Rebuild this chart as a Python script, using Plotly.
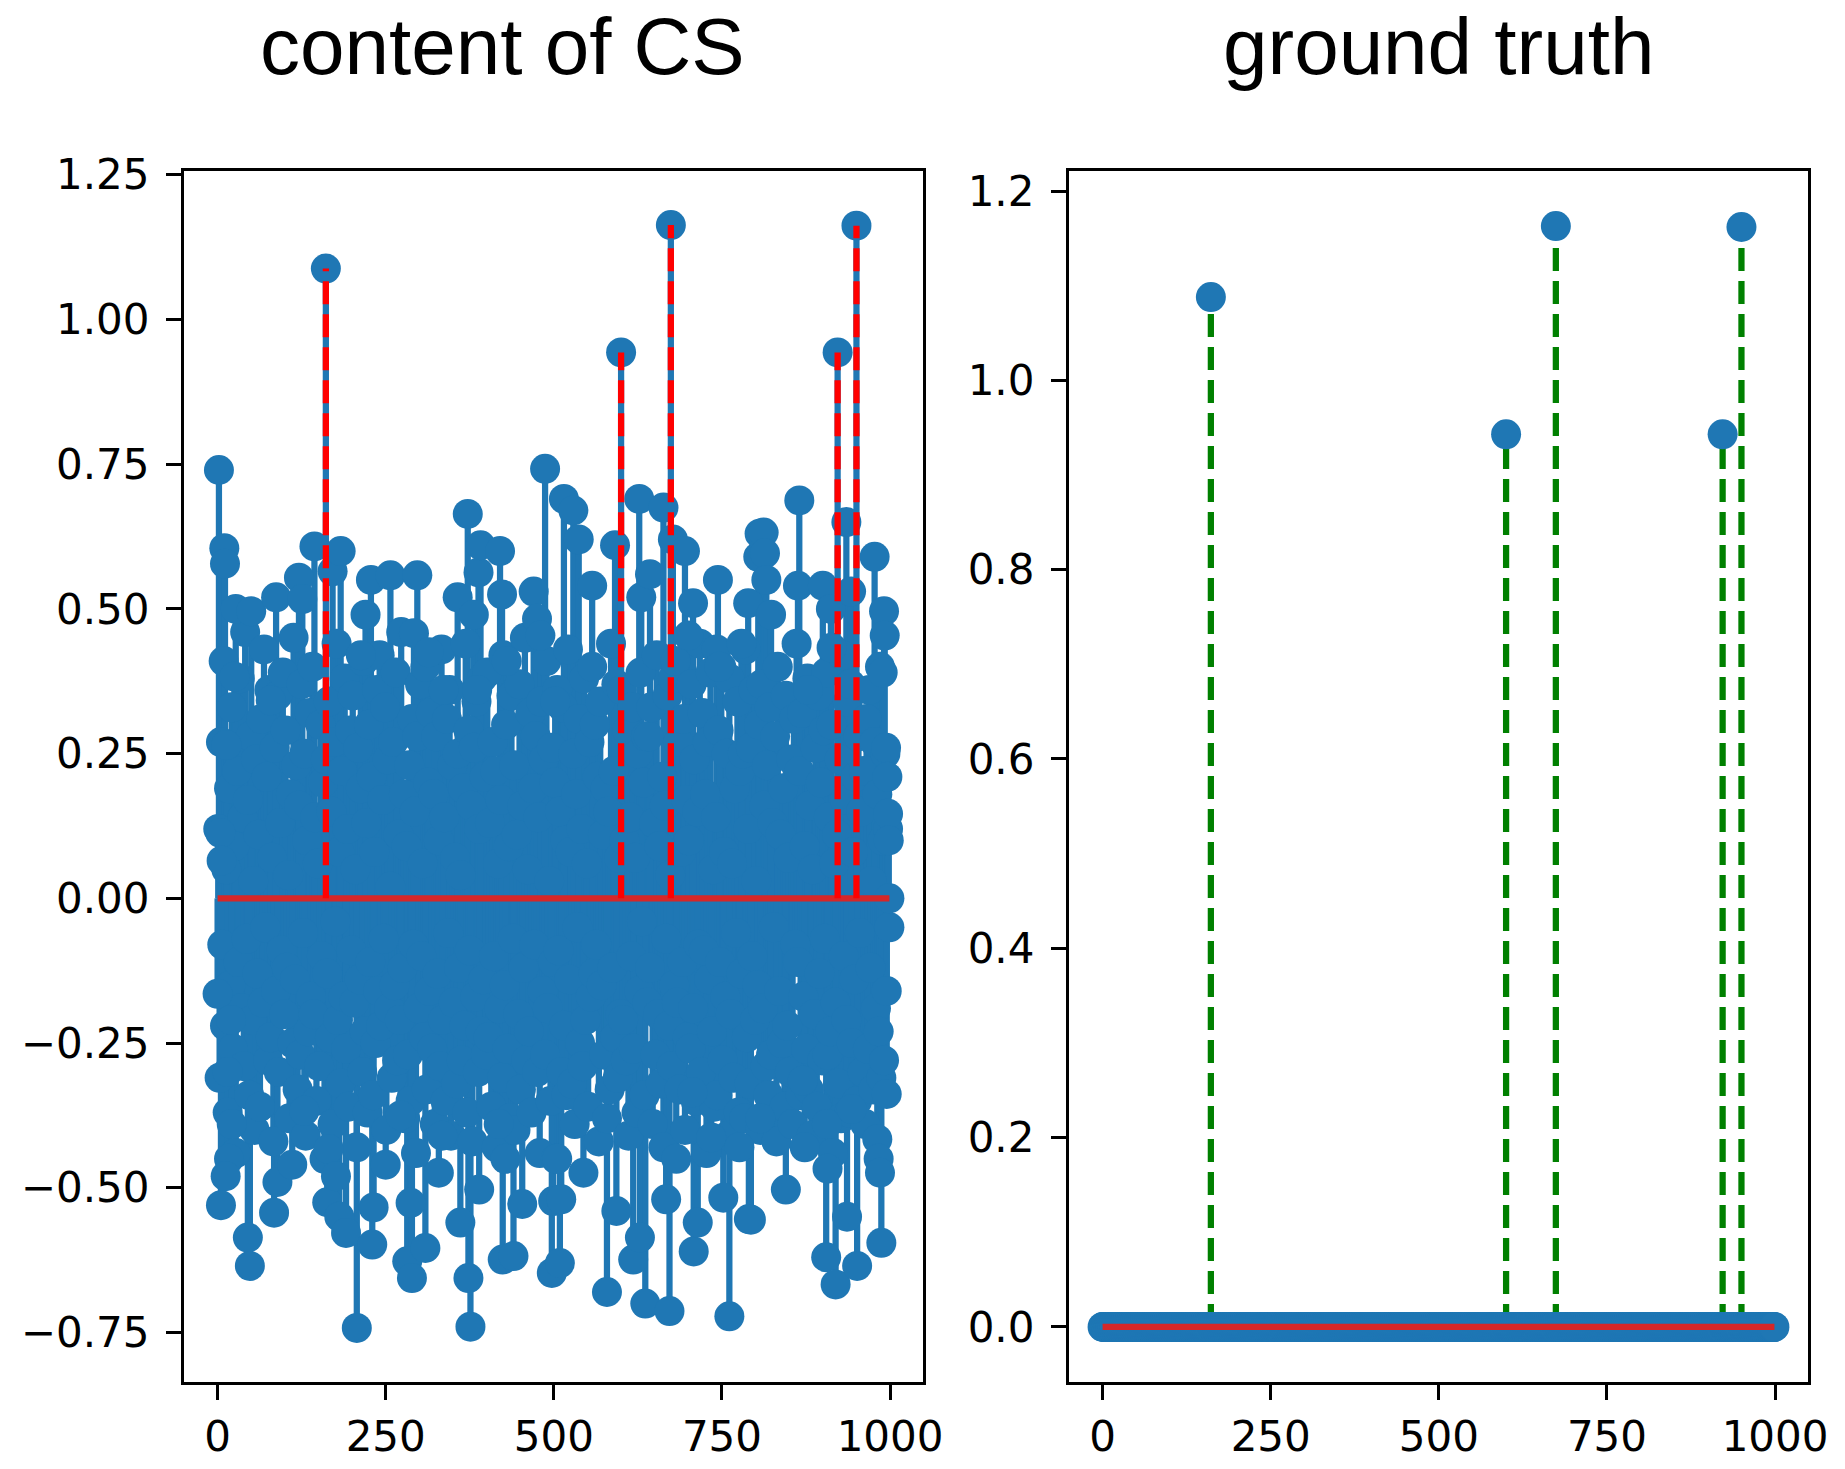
import plotly.graph_objects as go

# ---------------- data ----------------
N_SAMPLES = 1000

# sparse ground-truth spikes (index, value)
spike_idx = [161, 600, 674, 922, 950]
spike_val = [1.088, 0.943, 1.163, 0.943, 1.162]

# CS content: outer (visible) markers
cs_env_idx = [2, 4, 6, 10, 11, 13, 25, 27, 50, 79, 87, 121, 126, 144, 171, 183,
              213, 220, 228, 257, 292, 297, 314, 336, 357, 372, 381, 386, 388,
              391, 420, 423, 430, 470, 475, 480, 487, 502, 515, 529, 537, 557,
              591, 627, 630, 643, 663, 677, 695, 700, 707, 742, 744, 746, 779,
              789, 804, 806, 812, 814, 816, 823, 863, 865, 878, 900, 912, 913,
              935, 942, 977, 989, 991, 992, 994, 996, 997, 998, 999,
              0, 15, 17, 20, 21, 12, 5, 45, 48, 84, 89, 111, 129, 163, 165,
              176, 181, 191, 207, 230, 232, 250, 272, 282, 287, 289, 309, 329,
              334, 361, 373, 376, 389, 418, 424, 428, 440, 453, 497, 499, 505,
              509, 511, 544, 579, 593, 618, 628, 636, 667, 672, 682, 706, 708,
              714, 734, 752, 761, 776, 790, 793, 807, 845, 870, 873, 905, 906,
              907, 919, 936, 943, 951, 981, 983, 985, 987, 995]
cs_env_val = [0.74, 0.113, 0.065, 0.605, 0.578, 0.265, 0.383, 0.50, 0.496,
              0.342, 0.52, 0.554, 0.517, 0.608, 0.565, 0.60, 0.42, 0.49, 0.55,
              0.558, 0.458, 0.558, 0.425, 0.36, 0.52, 0.664, 0.49, 0.36, 0.563,
              0.61, 0.60, 0.525, 0.41, 0.53, 0.483, 0.454, 0.742, 0.34, 0.69,
              0.67, 0.62, 0.54, 0.61, 0.69, 0.52, 0.56, 0.675, 0.62, 0.60,
              0.454, 0.51, 0.43, 0.55, 0.40, 0.44, 0.51, 0.59, 0.63, 0.632,
              0.596, 0.55, 0.49, 0.54, 0.6875, 0.36, 0.54, 0.50, 0.433, 0.65,
              0.53, 0.59, 0.39, 0.496, 0.454, 0.26, 0.21, 0.146, 0.10, 0.0,
              -0.165, -0.30, -0.45, -0.21, -0.39, -0.48, -0.53, -0.586, -0.635,
              -0.543, -0.49, -0.46, -0.367, -0.525, -0.433, -0.48, -0.55,
              -0.578, -0.742, -0.598, -0.534, -0.46, -0.375, -0.627, -0.526,
              -0.656, -0.604, -0.474, -0.41, -0.56, -0.656, -0.74, -0.503,
              -0.39, -0.624, -0.45, -0.618, -0.528, -0.647, -0.523, -0.45,
              -0.63, -0.52, -0.474, -0.68, -0.54, -0.624, -0.586, -0.70, -0.52,
              -0.713, -0.45, -0.335, -0.61, -0.56, -0.413, -0.517, -0.722,
              -0.43, -0.554, -0.555, -0.38, -0.503, -0.315, -0.43, -0.62, -0.39,
              -0.467, -0.667, -0.55, -0.364, -0.635, -0.416, -0.45, -0.474,
              -0.595, -0.338]

# CS content: dense inner samples at odd indices 1, 3, 5, ... 999
cs_body_start, cs_body_step = 1, 2
cs_body_val = [
    0.12, -0.31, 0.27, -0.08, 0.41, -0.22, 0.05, -0.37, 0.19, -0.15,
    0.33, -0.26, 0.09, -0.44, 0.22, -0.11, 0.38, -0.19, 0.14, -0.29,
    0.46, -0.07, 0.17, -0.34, 0.28, -0.21, 0.03, -0.40, 0.24, -0.13,
    0.11, -0.36, 0.31, -0.18, 0.43, -0.05, 0.21, -0.28, 0.36, -0.24,
    0.07, -0.42, 0.26, -0.16, 0.35, -0.30, 0.13, -0.09, 0.39, -0.20,
    0.29, -0.12, 0.04, -0.38, 0.18, -0.25, 0.45, -0.14, 0.23, -0.33,
    0.16, -0.27, 0.37, -0.06, 0.25, -0.41, 0.10, -0.23, 0.32, -0.17,
    0.40, -0.20, 0.14, -0.35, 0.06, -0.29, 0.30, -0.10, 0.20, -0.45,
    0.24, -0.13, 0.34, -0.24, 0.15, -0.39, 0.27, -0.04, 0.44, -0.21,
    0.08, -0.32, 0.22, -0.17, 0.38, -0.26, 0.12, -0.36, 0.29, -0.09,
    0.35, -0.18, 0.05, -0.43, 0.26, -0.14, 0.19, -0.30, 0.41, -0.23,
    0.13, -0.37, 0.30, -0.11, 0.21, -0.34, 0.08, -0.25, 0.36, -0.16,
    0.42, -0.22, 0.17, -0.07, 0.33, -0.40, 0.24, -0.19, 0.02, -0.31,
    0.27, -0.15, 0.39, -0.28, 0.11, -0.21, 0.46, -0.12, 0.18, -0.38,
    0.09, -0.27, 0.23, -0.35, 0.31, -0.08, 0.15, -0.44, 0.28, -0.19,
    0.37, -0.10, 0.06, -0.24, 0.40, -0.33, 0.20, -0.16, 0.32, -0.26,
    0.18, -0.39, 0.28, -0.13, 0.10, -0.29, 0.43, -0.21, 0.14, -0.35,
    0.31, -0.06, 0.36, -0.41, 0.23, -0.18, 0.07, -0.32, 0.25, -0.12,
    0.04, -0.28, 0.19, -0.22, 0.44, -0.37, 0.29, -0.09, 0.16, -0.42,
    0.26, -0.17, 0.34, -0.30, 0.12, -0.23, 0.38, -0.14, 0.21, -0.27,
    0.39, -0.24, 0.13, -0.36, 0.27, -0.10, 0.22, -0.43, 0.06, -0.19,
    0.17, -0.31, 0.42, -0.15, 0.30, -0.26, 0.09, -0.38, 0.35, -0.07,
    0.23, -0.40, 0.11, -0.20, 0.37, -0.33, 0.16, -0.12, 0.45, -0.28,
    0.05, -0.23, 0.32, -0.37, 0.19, -0.08, 0.28, -0.30, 0.14, -0.44,
    0.34, -0.16, 0.24, -0.27, 0.41, -0.19, 0.03, -0.35, 0.26, -0.11,
    0.20, -0.45, 0.36, -0.09, 0.15, -0.30, 0.33, -0.22, 0.10, -0.34,
    0.43, -0.14, 0.08, -0.32, 0.25, -0.39, 0.18, -0.05, 0.31, -0.25,
    0.12, -0.29, 0.38, -0.21, 0.06, -0.36, 0.27, -0.17, 0.40, -0.13,
    0.30, -0.08, 0.21, -0.42, 0.34, -0.15, 0.11, -0.27, 0.19, -0.38,
    0.15, -0.33, 0.44, -0.12, 0.22, -0.24, 0.37, -0.31, 0.07, -0.20,
    0.36, -0.21, 0.10, -0.28, 0.29, -0.41, 0.14, -0.10, 0.33, -0.26,
    0.07, -0.37, 0.25, -0.16, 0.39, -0.04, 0.20, -0.34, 0.28, -0.18,
    0.28, -0.12, 0.33, -0.39, 0.13, -0.27, 0.42, -0.20, 0.09, -0.32,
    0.21, -0.43, 0.16, -0.07, 0.35, -0.22, 0.04, -0.29, 0.38, -0.15,
    0.41, -0.18, 0.27, -0.33, 0.08, -0.11, 0.31, -0.40, 0.17, -0.24,
    0.10, -0.26, 0.37, -0.19, 0.24, -0.35, 0.15, -0.08, 0.44, -0.30,
    0.32, -0.09, 0.18, -0.44, 0.27, -0.14, 0.39, -0.23, 0.05, -0.36,
    0.14, -0.34, 0.29, -0.11, 0.40, -0.28, 0.08, -0.17, 0.25, -0.41,
    0.38, -0.20, 0.06, -0.31, 0.19, -0.06, 0.34, -0.37, 0.22, -0.13,
    0.25, -0.38, 0.43, -0.24, 0.12, -0.32, 0.26, -0.10, 0.36, -0.21,
    0.03, -0.15, 0.30, -0.40, 0.37, -0.19, 0.16, -0.29, 0.23, -0.34,
    0.33, -0.27, 0.13, -0.05, 0.28, -0.42, 0.40, -0.16, 0.11, -0.25,
    0.19, -0.36, 0.35, -0.22, 0.07, -0.30, 0.24, -0.39, 0.31, -0.08,
    0.44, -0.11, 0.22, -0.34, 0.32, -0.17, 0.09, -0.26, 0.38, -0.33,
    0.16, -0.41, 0.05, -0.20, 0.26, -0.36, 0.35, -0.13, 0.20, -0.28,
    0.29, -0.07, 0.39, -0.27, 0.14, -0.23, 0.30, -0.44, 0.06, -0.18,
    0.11, -0.32, 0.24, -0.38, 0.42, -0.10, 0.17, -0.21, 0.34, -0.37,
    0.37, -0.25, 0.08, -0.14, 0.21, -0.35, 0.28, -0.06, 0.15, -0.30,
    0.22, -0.39, 0.31, -0.26, 0.36, -0.12, 0.03, -0.33, 0.27, -0.19,
    0.18, -0.23, 0.40, -0.31, 0.10, -0.28, 0.25, -0.16, 0.12, -0.05,
]

titles = ["content of CS", "ground truth"]
x_ticks = [0, 250, 500, 750, 1000]
x_ticktext = ["0", "250", "500", "750", "1000"]
y1_ticks = [-0.75, -0.5, -0.25, 0.0, 0.25, 0.5, 0.75, 1.0, 1.25]
y1_ticktext = ["\u22120.75", "\u22120.50", "\u22120.25", "0.00", "0.25",
               "0.50", "0.75", "1.00", "1.25"]
y2_ticks = [0.0, 0.2, 0.4, 0.6, 0.8, 1.0, 1.2]
y2_ticktext = ["0.0", "0.2", "0.4", "0.6", "0.8", "1.0", "1.2"]

# ---------------- derived ----------------
body_idx = list(range(cs_body_start, cs_body_start + cs_body_step * len(cs_body_val), cs_body_step))
cs_idx = body_idx + cs_env_idx + spike_idx
cs_val = cs_body_val + cs_env_val + spike_val

gt_val = [0.0] * N_SAMPLES
for i, v in zip(spike_idx, spike_val):
    gt_val[i] = v
gt_idx = list(range(N_SAMPLES))

C0 = "#1f77b4"
C3 = "#d62728"
LW = 6.25
MS = 30
DASH = "23px,10px"


def stem_xy(xs, ys):
    sx, sy = [], []
    for x, y in zip(xs, ys):
        sx += [x, x, None]
        sy += [0, y, None]
    return sx, sy


fig = go.Figure()

# ---- left: content of CS ----
sx, sy = stem_xy(cs_idx, cs_val)
fig.add_trace(go.Scatter(x=sx, y=sy, mode="lines", line=dict(color=C0, width=LW),
                         xaxis="x", yaxis="y", hoverinfo="skip"))
fig.add_trace(go.Scatter(x=cs_idx, y=cs_val, mode="markers",
                         marker=dict(color=C0, size=MS, line=dict(width=0)),
                         xaxis="x", yaxis="y"))
fig.add_trace(go.Scatter(x=[0, N_SAMPLES - 1], y=[0, 0], mode="lines",
                         line=dict(color=C3, width=LW), xaxis="x", yaxis="y"))
sx, sy = stem_xy(spike_idx, spike_val)
fig.add_trace(go.Scatter(x=sx, y=sy, mode="lines",
                         line=dict(color="#ff0000", width=LW, dash=DASH),
                         xaxis="x", yaxis="y"))

# ---- right: ground truth ----
sx, sy = stem_xy(spike_idx, spike_val)
fig.add_trace(go.Scatter(x=sx, y=sy, mode="lines",
                         line=dict(color="#008000", width=LW, dash=DASH),
                         xaxis="x2", yaxis="y2"))
fig.add_trace(go.Scatter(x=gt_idx, y=gt_val, mode="markers",
                         marker=dict(color=C0, size=MS, line=dict(width=0)),
                         xaxis="x2", yaxis="y2"))
fig.add_trace(go.Scatter(x=[0, N_SAMPLES - 1], y=[0, 0], mode="lines",
                         line=dict(color=C3, width=LW), xaxis="x2", yaxis="y2"))

W, H = 1845, 1469
ydom = [1 - 1382 / H, 1 - 171 / H]
common = dict(showline=True, linecolor="black", linewidth=3.3, mirror=True,
              ticks="outside", ticklen=15, tickwidth=3.3, tickcolor="black",
              showgrid=False, zeroline=False, automargin=False,
              tickfont=dict(family="DejaVu Sans", size=42, color="black"))

title_font = dict(family="Liberation Sans", size=80, color="black")
fig.update_layout(
    template="none",
    width=W, height=H, margin=dict(l=0, r=0, t=0, b=0, pad=0),
    paper_bgcolor="white", plot_bgcolor="white", showlegend=False,
    xaxis=dict(domain=[184 / W, 923 / W], range=[-49.95, 1048.95],
               tickvals=x_ticks, ticktext=x_ticktext, anchor="y", **common),
    yaxis=dict(domain=ydom, range=[-0.8355, 1.2565], ticklabelstandoff=8,
               tickvals=y1_ticks, ticktext=y1_ticktext, anchor="x", **common),
    xaxis2=dict(domain=[1069 / W, 1808 / W], range=[-49.95, 1048.95],
                tickvals=x_ticks, ticktext=x_ticktext, anchor="y2", **common),
    yaxis2=dict(domain=ydom, range=[-0.05815, 1.22115], ticklabelstandoff=8,
                tickvals=y2_ticks, ticktext=y2_ticktext, anchor="x2", **common),
    annotations=[
        dict(text=titles[0], x=502 / W, y=1 - 47 / H, xref="paper", yref="paper",
             xanchor="center", yanchor="middle", showarrow=False, borderpad=0,
             font=title_font),
        dict(text=titles[1], x=1438 / W, y=1 - 47 / H, xref="paper", yref="paper",
             xanchor="center", yanchor="middle", showarrow=False, borderpad=0,
             font=title_font),
    ],
)

fig.write_html("out.html", config={"displayModeBar": False},
               post_script="document.body.style.margin='0';")
